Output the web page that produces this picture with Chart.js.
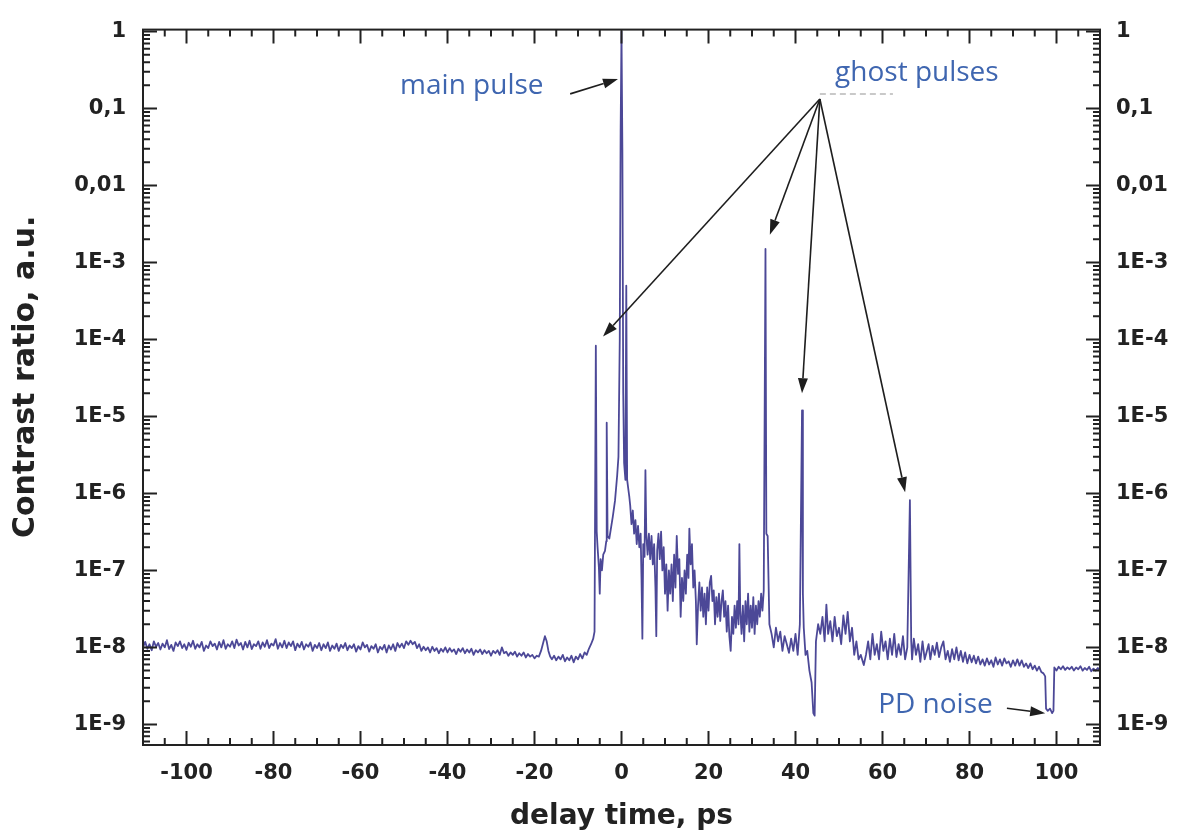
<!DOCTYPE html>
<html>
<head>
<meta charset="utf-8">
<title>Contrast ratio</title>
<script src="https://cdn.jsdelivr.net/npm/chart.js@4.4.1/dist/chart.umd.min.js"></script>
<style>
  html, body { margin: 0; padding: 0; background: #fff; }
  canvas { display: block; }
</style>
</head>
<body>
<canvas id="chartLine" width="1179" height="836"></canvas>
<script>
// delay time, ps
var delay = [
    -110, -109.5, -109, -108.5, -108, -107.5, -107, -106.5, -106, -105.5,
    -105, -104.5, -104, -103.5, -103, -102.5, -102, -101.5, -101, -100.5,
    -100, -99.5, -99, -98.5, -98, -97.5, -97, -96.5, -96, -95.5,
    -95, -94.5, -94, -93.5, -93, -92.5, -92, -91.5, -91, -90.5,
    -90, -89.5, -89, -88.5, -88, -87.5, -87, -86.5, -86, -85.5,
    -85, -84.5, -84, -83.5, -83, -82.5, -82, -81.5, -81, -80.5,
    -80, -79.5, -79, -78.5, -78, -77.5, -77, -76.5, -76, -75.5,
    -75, -74.5, -74, -73.5, -73, -72.5, -72, -71.5, -71, -70.5,
    -70, -69.5, -69, -68.5, -68, -67.5, -67, -66.5, -66, -65.5,
    -65, -64.5, -64, -63.5, -63, -62.5, -62, -61.5, -61, -60.5,
    -60, -59.5, -59, -58.5, -58, -57.5, -57, -56.5, -56, -55.5,
    -55, -54.5, -54, -53.5, -53, -52.5, -52, -51.5, -51, -50.5,
    -50, -49.5, -49, -48.5, -48, -47.5, -47, -46.5, -46, -45.5,
    -45, -44.5, -44, -43.5, -43, -42.5, -42, -41.5, -41, -40.5,
    -40, -39.5, -39, -38.5, -38, -37.5, -37, -36.5, -36, -35.5,
    -35, -34.5, -34, -33.5, -33, -32.5, -32, -31.5, -31, -30.5,
    -30, -29.5, -29, -28.5, -28, -27.5, -27, -26.5, -26, -25.5,
    -25, -24.5, -24, -23.5, -23, -22.5, -22, -21.5, -21, -20.5,
    -20, -19.5, -19, -18.5, -18, -17.6, -17.2, -16.8, -16.4, -16,
    -15.5, -15, -14.5, -14, -13.5, -13, -12.5, -12, -11.5, -11,
    -10.5, -10, -9.5, -9, -8.5, -8, -7.5, -7, -6.5, -6.2,
    -5.9, -5.7, -5.5, -5.2, -5, -4.8, -4.5, -4.2, -3.8, -3.5,
    -3.4, -3.2, -2.8, -2.4, -2, -1.5, -1, -0.7, -0.4, -0.2,
    0, 0.2, 0.4, 0.6, 0.9, 1.1, 1.3, 1.6, 1.8,
    2.0, 2.3, 2.6, 2.9, 3.2, 3.5, 3.8, 4.1, 4.4, 4.6,
    4.8, 5.0, 5.3, 5.5, 5.7, 6.0, 6.3, 6.6, 6.9, 7.2,
    7.5, 7.8, 8.0, 8.2, 8.5, 8.8, 9.1, 9.4, 9.7, 10.0,
    10.3, 10.6, 10.9, 11.2, 11.5, 11.8, 12.1, 12.4, 12.7, 13.0,
    13.3, 13.6, 13.9, 14.2, 14.5, 14.8, 15.1, 15.4, 15.6, 15.9,
    16.2, 16.5, 16.8, 17.1, 17.3, 17.6, 17.9, 18.2, 18.5, 18.8,
    19.1, 19.4, 19.7, 20.0, 20.3, 20.6, 20.9, 21.2, 21.5, 21.8,
    22.1, 22.4, 22.7, 23.0, 23.3, 23.6, 23.9, 24.2, 24.5, 24.8,
    25.1, 25.4, 25.7, 26.0, 26.3, 26.6, 26.9, 27.1, 27.3, 27.6,
    27.9, 28.2, 28.5, 28.8, 29.1, 29.4, 29.7, 30.0, 30.3, 30.6,
    30.9, 31.2, 31.5, 31.8, 32.1, 32.4, 32.7, 33.1, 33.3, 33.6,
    34, 34.5, 35, 35.5, 36, 36.5, 37, 37.5, 38,
    38.5, 39, 39.5, 40, 40.5, 41, 41.5, 41.7, 41.9, 42.3,
    42.7, 43.2, 43.7, 44.1, 44.4, 44.7, 45.2, 45.7, 46.2, 46.7,
    47.1, 47.5, 48, 48.5, 49, 49.5, 50, 50.5, 51, 51.5,
    52, 52.5, 53, 53.5, 54, 54.5, 55, 55.7, 56.2, 56.7,
    57.2, 57.7, 58.2, 58.7, 59.2, 59.7, 60.2, 60.7, 61.2, 61.7,
    62.2, 62.7, 63.2, 63.7, 64.2, 64.7, 65.2, 65.7, 66.3, 66.6,
    66.8, 67.2, 67.7, 68.2, 68.7, 69.2, 69.7, 70.2, 70.6,
    71, 71.5, 72, 72.5, 73, 73.5, 74, 74.5, 75, 75.5,
    76, 76.5, 77, 77.5, 78, 78.5, 79, 79.5, 80, 80.5,
    81, 81.5, 82, 82.5, 83, 83.5, 84, 84.5, 85, 85.5,
    86, 86.5, 87, 87.5, 88, 88.5, 89, 89.5, 90, 90.5,
    91, 91.5, 92, 92.5, 93, 93.5, 94, 94.5, 95, 95.5,
    96, 96.5, 97, 97.4, 97.6, 98, 98.5, 99, 99.3, 99.5,
    100, 100.5, 101, 101.5, 102, 102.5, 103, 103.5, 104, 104.5,
    105, 105.5, 106, 106.5, 107, 107.5, 108, 108.5, 109, 109.5,
    110
];

// contrast ratio, a.u.
var contrast = [
    10.0e-9, 11.8e-9, 9.6e-9, 11.0e-9, 9.2e-9, 12.0e-9, 10.2e-9, 11.4e-9, 9.4e-9, 11.2e-9,
    10.0e-9, 12.4e-9, 9.5e-9, 10.8e-9, 9.0e-9, 11.6e-9, 10.4e-9, 12.0e-9, 9.8e-9, 11.0e-9,
    9.3e-9, 11.5e-9, 10.2e-9, 12.2e-9, 9.6e-9, 11.0e-9, 10.0e-9, 11.8e-9, 9.0e-9, 10.6e-9,
    9.8e-9, 12.0e-9, 10.4e-9, 11.2e-9, 9.4e-9, 11.8e-9, 10.0e-9, 12.4e-9, 9.6e-9, 11.0e-9,
    10.2e-9, 12.0e-9, 9.8e-9, 12.6e-9, 10.6e-9, 11.4e-9, 9.4e-9, 11.8e-9, 10.0e-9, 12.2e-9,
    9.5e-9, 11.0e-9, 10.4e-9, 12.0e-9, 9.6e-9, 11.6e-9, 10.2e-9, 12.4e-9, 9.8e-9, 11.2e-9,
    10.6e-9, 12.8e-9, 9.6e-9, 11.4e-9, 10.0e-9, 12.2e-9, 9.8e-9, 11.6e-9, 10.4e-9, 12.0e-9,
    9.2e-9, 11.2e-9, 10.0e-9, 11.8e-9, 9.4e-9, 11.0e-9, 10.2e-9, 11.6e-9, 9.0e-9, 10.8e-9,
    9.8e-9, 11.4e-9, 9.2e-9, 11.0e-9, 9.8e-9, 11.6e-9, 9.0e-9, 10.6e-9, 9.6e-9, 11.2e-9,
    9.0e-9, 10.8e-9, 9.8e-9, 11.4e-9, 9.2e-9, 10.6e-9, 9.8e-9, 11.0e-9, 8.8e-9, 10.4e-9,
    9.4e-9, 11.6e-9, 10.0e-9, 10.8e-9, 8.8e-9, 10.4e-9, 9.6e-9, 11.0e-9, 8.6e-9, 10.2e-9,
    9.4e-9, 10.8e-9, 8.6e-9, 10.6e-9, 9.4e-9, 11.0e-9, 9.0e-9, 11.4e-9, 10.0e-9, 11.2e-9,
    9.8e-9, 12.0e-9, 10.8e-9, 12.2e-9, 11.0e-9, 11.8e-9, 9.8e-9, 11.0e-9, 9.0e-9, 10.2e-9,
    9.2e-9, 10.0e-9, 8.6e-9, 10.2e-9, 9.0e-9, 9.8e-9, 8.4e-9, 9.6e-9, 8.8e-9, 10.0e-9,
    8.6e-9, 9.8e-9, 8.8e-9, 9.4e-9, 8.2e-9, 9.6e-9, 8.8e-9, 9.8e-9, 8.4e-9, 9.4e-9,
    8.6e-9, 9.6e-9, 8.0e-9, 9.2e-9, 8.6e-9, 9.4e-9, 8.2e-9, 9.2e-9, 8.4e-9, 9.0e-9,
    7.8e-9, 9.0e-9, 8.4e-9, 9.2e-9, 8.0e-9, 10.0e-9, 8.4e-9, 8.8e-9, 7.8e-9, 8.6e-9,
    8.0e-9, 8.8e-9, 7.6e-9, 8.4e-9, 7.8e-9, 8.6e-9, 7.4e-9, 8.2e-9, 7.6e-9, 8.0e-9,
    7.2e-9, 7.8e-9, 7.6e-9, 9.0e-9, 11.5e-9, 14.0e-9, 12.0e-9, 9.0e-9, 7.6e-9, 7.0e-9,
    7.8e-9, 6.8e-9, 7.6e-9, 7.0e-9, 8.0e-9, 6.6e-9, 7.4e-9, 6.8e-9, 7.8e-9, 6.4e-9,
    7.6e-9, 7.0e-9, 8.2e-9, 7.2e-9, 8.6e-9, 8.0e-9, 9.6e-9, 11.0e-9, 13.0e-9, 16.0e-9,
    8.3e-5, 3.2e-7, 2.0e-7, 1.1e-7, 5.0e-8, 1.4e-7, 1.0e-7, 1.6e-7, 1.8e-7, 2.4e-7,
    8.3e-6, 2.8e-7, 2.6e-7, 3.6e-7, 5.0e-7, 8.0e-7, 1.7e-6, 3.0e-6, 1.0e-4, 5.0e-2,
    1.0, 3.0e-2, 2.0e-5, 2.5e-6, 1.5e-6, 5.0e-4, 1.5e-6, 1.1e-6, 9.0e-7,
    7.0e-7, 4.0e-7, 6.0e-7, 3.0e-7, 4.5e-7, 2.2e-7, 3.8e-7, 2.0e-7, 3.0e-7, 8.0e-8,
    1.3e-8, 2.2e-7, 1.5e-7, 2.0e-6, 3.0e-7, 1.6e-7, 3.0e-7, 1.4e-7, 2.8e-7, 1.2e-7,
    2.2e-7, 6.0e-8, 1.4e-8, 1.8e-7, 3.0e-7, 1.4e-7, 3.2e-7, 1.0e-7, 2.0e-7, 5.0e-8,
    1.2e-7, 3.0e-8, 1.0e-7, 5.0e-8, 1.2e-7, 4.0e-8, 1.6e-7, 6.0e-8, 2.8e-7, 9.0e-8,
    1.4e-7, 2.5e-8, 8.0e-8, 4.0e-8, 1.0e-7, 5.0e-8, 1.6e-7, 8.0e-8, 3.5e-7, 1.2e-7,
    2.2e-7, 6.0e-8, 1.0e-7, 4.0e-8, 1.1e-8, 3.5e-8, 7.0e-8, 3.0e-8, 6.0e-8, 2.5e-8,
    5.0e-8, 2.0e-8, 6.0e-8, 3.0e-8, 7.0e-8, 8.5e-8, 4.0e-8, 5.5e-8, 2.0e-8, 4.5e-8,
    2.5e-8, 5.0e-8, 2.2e-8, 4.0e-8, 5.5e-8, 2.5e-8, 4.0e-8, 1.6e-8, 3.5e-8, 1.4e-8,
    9.0e-9, 2.5e-8, 1.5e-8, 3.5e-8, 1.8e-8, 4.0e-8, 2.0e-8, 2.2e-7, 3.0e-8, 1.5e-8,
    3.5e-8, 1.2e-8, 4.0e-8, 2.0e-8, 5.0e-8, 1.6e-8, 3.5e-8, 1.8e-8, 4.5e-8, 1.5e-8,
    3.5e-8, 2.0e-8, 4.0e-8, 2.5e-8, 5.0e-8, 3.0e-8, 5.5e-8, 1.5e-3, 3.0e-7, 2.8e-7,
    2.0e-8, 1.5e-8, 1.0e-8, 1.8e-8, 1.2e-8, 1.6e-8, 9.0e-9, 1.4e-8, 1.1e-8,
    8.5e-9, 1.3e-8, 9.0e-9, 1.5e-8, 8.0e-9, 2.0e-8, 1.2e-5, 5.0e-8, 1.8e-8, 8.0e-9,
    9.0e-9, 5.0e-9, 3.5e-9, 1.4e-9, 1.3e-9, 1.2e-8, 2.0e-8, 1.5e-8, 2.5e-8, 1.2e-8,
    3.6e-8, 1.5e-8, 2.2e-8, 1.2e-8, 2.5e-8, 1.4e-8, 1.8e-8, 1.1e-8, 2.6e-8, 1.5e-8,
    2.9e-8, 1.2e-8, 1.8e-8, 8.0e-9, 1.2e-8, 7.0e-9, 8.0e-9, 5.9e-9, 8.0e-9, 1.2e-8,
    7.0e-9, 1.5e-8, 8.0e-9, 1.1e-8, 7.0e-9, 1.6e-8, 9.0e-9, 1.2e-8, 7.0e-9, 1.3e-8,
    8.0e-9, 1.5e-8, 7.5e-9, 1.1e-8, 8.0e-9, 1.4e-8, 7.0e-9, 1.0e-8, 8.2e-7, 1.2e-8,
    7.0e-9, 1.3e-8, 8.0e-9, 1.1e-8, 6.5e-9, 1.2e-8, 7.0e-9, 9.0e-9, 1.1e-8,
    7.0e-9, 10.5e-9, 8.0e-9, 11.5e-9, 7.5e-9, 10.0e-9, 12.0e-9, 7.0e-9, 9.0e-9, 6.5e-9,
    9.5e-9, 7.0e-9, 10.0e-9, 6.8e-9, 9.0e-9, 6.5e-9, 8.6e-9, 6.2e-9, 8.0e-9, 6.4e-9,
    7.8e-9, 6.2e-9, 7.6e-9, 6.0e-9, 7.0e-9, 5.8e-9, 7.2e-9, 6.0e-9, 6.8e-9, 5.6e-9,
    7.4e-9, 6.0e-9, 7.0e-9, 5.8e-9, 7.2e-9, 6.2e-9, 6.6e-9, 5.6e-9, 6.8e-9, 5.8e-9,
    7.0e-9, 5.8e-9, 6.8e-9, 5.6e-9, 6.2e-9, 5.4e-9, 6.2e-9, 5.2e-9, 5.8e-9, 5.0e-9,
    5.6e-9, 4.8e-9, 4.6e-9, 4.2e-9, 1.6e-9, 1.5e-9, 1.6e-9, 1.4e-9, 1.5e-9, 5.5e-9,
    5.0e-9, 5.6e-9, 5.2e-9, 5.7e-9, 5.1e-9, 5.5e-9, 5.2e-9, 5.6e-9, 5.0e-9, 5.5e-9,
    5.2e-9, 5.7e-9, 5.0e-9, 5.4e-9, 5.1e-9, 5.6e-9, 4.9e-9, 5.3e-9, 5.0e-9, 5.4e-9,
    5.0e-9
];

var xTickValues = [-100, -80, -60, -40, -20, 0, 20, 40, 60, 80, 100];
var yTickValues = [1e-9, 1e-8, 1e-7, 1e-6, 1e-5, 1e-4, 1e-3, 0.01, 0.1, 1];
var yTickLabels = ["1E-9", "1E-8", "1E-7", "1E-6", "1E-5", "1E-4", "1E-3", "0,01", "0,1", "1"];

// annotations, in data units [delay, contrast]
var noteText = ["main pulse", "ghost pulses", "PD noise"];
var noteAt = [[-50.9, 0.155], [49.1, 0.228], [59.0, 1.40e-9]];
var arrowFrom = [[-11.8, 0.155], [45.6, 0.133], [45.6, 0.133], [45.6, 0.133], [45.6, 0.133], [88.6, 1.62e-9]];
var arrowTo = [[-0.8, 0.241], [-4.25, 1.09e-4], [34.1, 2.3e-3], [41.5, 2.0e-5], [65.2, 1.04e-6], [97.4, 1.40e-9]];
var dashFrom = [45.6, 0.155];
var dashTo = [62.4, 0.155];

var tickFont = { family: "'DejaVu Sans', sans-serif", size: 21, weight: 'bold' };
var titleFont = { family: "'DejaVu Sans', sans-serif", size: 28, weight: 'bold' };
var yTitleFont = { family: "'DejaVu Sans', sans-serif", size: 30, weight: 'bold' };

function drawArrow(ctx, x1, y1, x2, y2) {
    var ang = Math.atan2(y2 - y1, x2 - x1);
    var len = 15, half = 5;
    var bx = x2 - len * Math.cos(ang), by = y2 - len * Math.sin(ang);
    ctx.beginPath();
    ctx.moveTo(x1, y1);
    ctx.lineTo(bx, by);
    ctx.stroke();
    ctx.beginPath();
    ctx.moveTo(x2, y2);
    ctx.lineTo(bx + half * Math.sin(ang), by - half * Math.cos(ang));
    ctx.lineTo(bx - half * Math.sin(ang), by + half * Math.cos(ang));
    ctx.closePath();
    ctx.fill();
}

var frameTicks = {
    id: 'frameTicks',
    afterDraw: function (chart) {
        var ctx = chart.ctx, a = chart.chartArea;
        var x = chart.scales.x, y = chart.scales.y;
        ctx.save();
        ctx.strokeStyle = '#222';
        ctx.lineWidth = 2;
        ctx.strokeRect(a.left, a.top, a.right - a.left, a.bottom - a.top);

        // inward ticks every 5 ps, long ones at the labels
        for (var v = Math.ceil(x.min / 5) * 5; v <= x.max; v += 5) {
            var px = x.getPixelForValue(v);
            var len = xTickValues.indexOf(v) >= 0 ? 14 : 7;
            ctx.beginPath();
            ctx.moveTo(px, a.bottom); ctx.lineTo(px, a.bottom - len);
            ctx.moveTo(px, a.top); ctx.lineTo(px, a.top + len);
            ctx.stroke();
        }

        // log ticks, 1..9 in each decade
        for (var d = -10; d <= 0; d++) {
            for (var m = 1; m <= 9; m++) {
                var val = m * Math.pow(10, d);
                if (val < y.min || val > y.max) continue;
                var py = y.getPixelForValue(val);
                var l = m === 1 ? 14 : 7;
                ctx.beginPath();
                ctx.moveTo(a.left, py); ctx.lineTo(a.left + l, py);
                ctx.moveTo(a.right, py); ctx.lineTo(a.right - l, py);
                ctx.stroke();
            }
        }
        ctx.restore();
    }
};

var notes = {
    id: 'notes',
    afterDraw: function (chart) {
        var ctx = chart.ctx;
        var x = chart.scales.x, y = chart.scales.y;
        var P = function (p) { return [x.getPixelForValue(p[0]), y.getPixelForValue(p[1])]; };
        ctx.save();

        var d1 = P(dashFrom), d2 = P(dashTo);
        ctx.strokeStyle = '#b8b8b8';
        ctx.lineWidth = 1.5;
        ctx.setLineDash([6, 4]);
        ctx.beginPath();
        ctx.moveTo(d1[0], d1[1]); ctx.lineTo(d2[0], d2[1]);
        ctx.stroke();
        ctx.setLineDash([]);

        ctx.strokeStyle = '#1e1e1e';
        ctx.fillStyle = '#1e1e1e';
        ctx.lineWidth = 1.6;
        for (var i = 0; i < arrowFrom.length; i++) {
            var f = P(arrowFrom[i]), t = P(arrowTo[i]);
            drawArrow(ctx, f[0], f[1], t[0], t[1]);
        }

        ctx.fillStyle = '#3f66b0';
        ctx.font = "28px 'Open Sans', sans-serif";
        ctx.textAlign = 'left';
        ctx.textBaseline = 'alphabetic';
        for (var k = 0; k < noteText.length; k++) {
            var q = P(noteAt[k]);
            ctx.fillText(noteText[k], q[0], q[1]);
        }
        ctx.restore();
    }
};

var points = delay.map(function (d, i) { return { x: d, y: contrast[i] }; });

var ctx = document.getElementById('chartLine').getContext('2d');

var myLineChart = new Chart(ctx, {
    type: 'line',
    data: {
        datasets: [{
            label: 'Contrast ratio',
            data: points,
            borderColor: 'rgba(56, 52, 140, 0.9)',
            borderWidth: 1.8,
            borderJoinStyle: 'round',
            pointRadius: 0,
            tension: 0,
            fill: false
        }]
    },
    options: {
        responsive: false,
        animation: false,
        layout: { padding: { top: 23, left: 0, right: 0, bottom: 0 } },
        plugins: {
            legend: { display: false },
            tooltip: { enabled: false }
        },
        scales: {
            x: {
                type: 'linear',
                min: -110,
                max: 110,
                afterFit: function (s) { s.height = 91; },
                afterBuildTicks: function (s) {
                    s.ticks = xTickValues.map(function (v) { return { value: v }; });
                },
                grid: { display: false, drawTicks: false },
                border: { display: true, color: '#222', width: 2 },
                ticks: {
                    autoSkip: false,
                    maxRotation: 0,
                    padding: 16,
                    color: '#222',
                    font: tickFont,
                    callback: function (v) { return String(v); }
                },
                title: {
                    display: true,
                    text: 'delay time, ps',
                    color: '#222',
                    font: titleFont,
                    padding: { top: 0, bottom: 2 }
                }
            },
            y: {
                type: 'logarithmic',
                position: 'left',
                min: 5.4e-10,
                max: 1.06,
                afterFit: function (s) { s.width = 143; },
                afterBuildTicks: function (s) {
                    s.ticks = yTickValues.map(function (v) { return { value: v }; });
                },
                grid: { display: false, drawTicks: false },
                border: { display: true, color: '#222', width: 2 },
                ticks: {
                    autoSkip: false,
                    padding: 17,
                    color: '#222',
                    font: tickFont,
                    callback: function (v) { return yTickLabels[yTickValues.indexOf(v)]; }
                },
                title: {
                    display: true,
                    text: '  Contrast ratio, a.u.',
                    color: '#222',
                    font: yTitleFont,
                    padding: { top: 8, bottom: 0 }
                }
            },
            y2: {
                type: 'logarithmic',
                position: 'right',
                min: 5.4e-10,
                max: 1.06,
                afterFit: function (s) { s.width = 79; },
                afterBuildTicks: function (s) {
                    s.ticks = yTickValues.map(function (v) { return { value: v }; });
                },
                grid: { display: false, drawTicks: false },
                border: { display: true, color: '#222', width: 2 },
                ticks: {
                    autoSkip: false,
                    padding: 16,
                    color: '#222',
                    font: tickFont,
                    callback: function (v) { return yTickLabels[yTickValues.indexOf(v)]; }
                }
            }
        }
    },
    plugins: [frameTicks, notes]
});
</script>
</body>
</html>
